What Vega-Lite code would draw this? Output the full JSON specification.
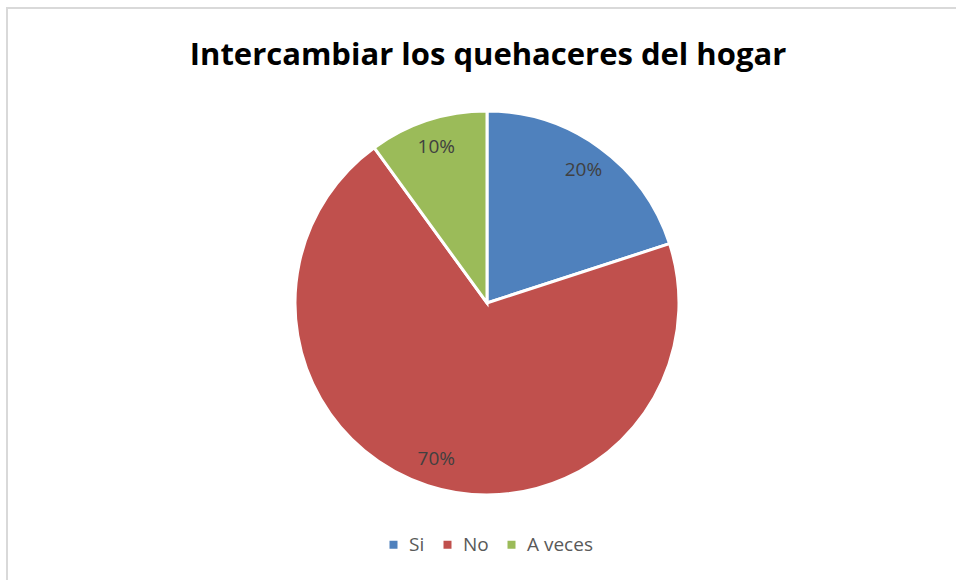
{
  "$schema": "https://vega.github.io/schema/vega-lite/v6.json",
  "width": 960,
  "height": 590,
  "padding": {"left": 7, "top": 8, "right": 0, "bottom": 0},
  "autosize": {"type": "none"},
  "background": "white",
  "view": {"stroke": "#d9d9d9", "strokeWidth": 2, "fill": "white"},
  "title": {
    "text": "Intercambiar los quehaceres del hogar",
    "orient": "top",
    "anchor": "middle",
    "offset": -64,
    "font": "Open Sans",
    "fontSize": 31,
    "fontWeight": "bold",
    "color": "#000000",
    "dx": 1
  },
  "data": {
    "values": [
      {"categoria": "Si", "valor": 20, "orden": 1, "etiqueta": "20%"},
      {"categoria": "No", "valor": 70, "orden": 2, "etiqueta": "70%"},
      {"categoria": "A veces", "valor": 10, "orden": 3, "etiqueta": "10%"}
    ]
  },
  "encoding": {
    "theta": {"field": "valor", "type": "quantitative", "stack": true},
    "order": {"field": "orden", "type": "quantitative"},
    "color": {
      "field": "categoria",
      "type": "nominal",
      "sort": ["Si", "No", "A veces"],
      "scale": {"domain": ["Si", "No", "A veces"], "range": ["#4F81BD", "#C0504D", "#9BBB59"]},
      "legend": {
        "orient": "none",
        "direction": "horizontal",
        "legendX": 377,
        "legendY": 527,
        "title": null,
        "symbolType": "square",
        "symbolSize": 64,
        "symbolStrokeWidth": 0,
        "labelFont": "Open Sans",
        "labelFontSize": 19,
        "labelColor": "#595959",
        "columnPadding": 13,
        "labelOffset": 6
      }
    }
  },
  "layer": [
    {"mark": {"type": "arc", "outerRadius": 192, "stroke": "white", "strokeWidth": 3}},
    {
      "mark": {"type": "text", "radius": 164, "font": "Open Sans", "fontSize": 19, "color": "#404040"},
      "encoding": {"text": {"field": "etiqueta"}, "color": {"value": "#404040"}}
    }
  ]
}
